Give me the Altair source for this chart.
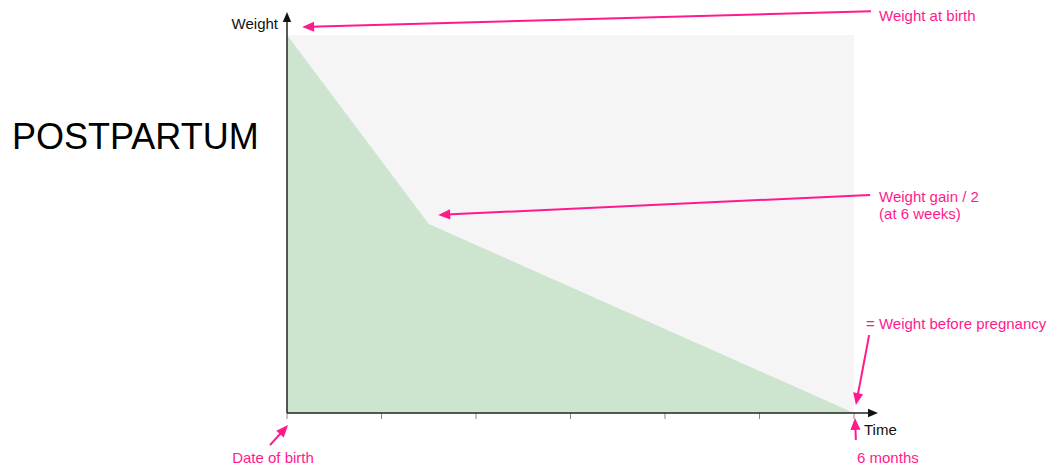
import altair as alt
import pandas as pd
import numpy as np

# ---- data (months since birth, relative weight above pre-pregnancy) ----
curve_month = [0, 1.5, 6]
curve_weight = [1.0, 0.5, 0.0]
tick_months = [0, 1, 2, 3, 4, 5, 6]

# annotations (data units): start point -> arrow tip
ann_x = [6.18, 6.17, 6.16, 6.02, -0.18]
ann_y = [1.063, 0.577, 0.206, -0.071, -0.085]
ann_tx = [0.16, 1.60, 6.02, 6.01, 0.011]
ann_ty = [1.021, 0.524, 0.021, -0.013, -0.032]

lab_text = ["Weight at birth", "Weight gain / 2", "(at 6 weeks)",
            "= Weight before pregnancy", "6 months", "Date of birth"]
lab_x = [6.265, 6.265, 6.265, 6.127, 6.032, -0.148]
lab_y = [1.051, 0.571, 0.526, 0.235, -0.119, -0.119]
lab_align = ["left", "left", "left", "left", "left", "center"]

PINK = "#ff1a8c"
PXX, PXY = 94.5, 378.0  # px per unit
XD = [0, 591 / PXX]
YD = [0, 401 / PXY]
FS = 15

xs = alt.Scale(domain=XD, nice=False, zero=False)
ys = alt.Scale(domain=YD, nice=False, zero=False)
X = lambda f: alt.X(f, type="quantitative", scale=xs, axis=None)
Y = lambda f: alt.Y(f, type="quantitative", scale=ys, axis=None)

bg = pd.DataFrame({"x": [0], "x2": [6], "y": [0], "y2": [1]})
back = alt.Chart(bg).mark_rect(color="#f5f5f5").encode(x=X("x"), x2="x2", y=Y("y"), y2="y2")

curve = pd.DataFrame({"m": curve_month, "w": curve_weight})
area = alt.Chart(curve).mark_area(color="#cde5cf", opacity=1).encode(x=X("m"), y=Y("w"))

# axes
axes_df = pd.DataFrame({"x": [0, 0], "y": [0, 0], "x2": [XD[1] - 0.05, 0], "y2": [0, YD[1] - 0.02]})
axes = alt.Chart(axes_df).mark_rule(color="#222", strokeWidth=1.5).encode(x=X("x"), y=Y("y"), x2="x2", y2="y2")

head_path = "M0,0L-0.42,1L0.42,1Z"
ah_df = pd.DataFrame({"x": [XD[1], 0], "y": [0, YD[1]], "a": [90, 0]})
axheads = alt.Chart(ah_df).mark_point(shape=head_path, filled=True, color="#111", opacity=1, size=400, strokeWidth=0).encode(
    x=X("x"), y=Y("y"), angle=alt.Angle("a:Q", scale=None))

ticks_df = pd.DataFrame({"m": tick_months})
ticks = alt.Chart(ticks_df).mark_tick(orient="vertical", color="#555", size=6, thickness=1, yOffset=3).encode(
    x=X("m"), y=alt.value(401))

# annotation arrows
adf = pd.DataFrame({"x": ann_x, "y": ann_y, "tx": ann_tx, "ty": ann_ty})
dx = (adf.tx - adf.x) * PXX
dy = -(adf.ty - adf.y) * PXY
adf["a"] = (np.degrees(np.arctan2(dx, -dy)) % 360).round(2)
L = np.hypot(dx, dy)
adf["ex"] = adf.tx - (adf.tx - adf.x) * (8 / L)
adf["ey"] = adf.ty - (adf.ty - adf.y) * (8 / L)
lines = alt.Chart(adf).mark_rule(color=PINK, strokeWidth=2).encode(x=X("x"), y=Y("y"), x2="ex", y2="ey")
heads = alt.Chart(adf).mark_point(shape=head_path, filled=True, color=PINK, opacity=1, size=576, strokeWidth=0).encode(
    x=X("tx"), y=Y("ty"), angle=alt.Angle("a:Q", scale=None))

ldf = pd.DataFrame({"t": lab_text, "x": lab_x, "y": lab_y, "al": lab_align})
labs = []
for al in ["left", "center"]:
    labs.append(alt.Chart(ldf[ldf.al == al]).mark_text(align=al, baseline="middle", color=PINK, fontSize=FS,
                                                     font="Liberation Sans").encode(x=X("x"), y=Y("y"), text="t"))

bdf = pd.DataFrame({"t": ["Weight", "Time"], "x": [-0.095, 6.106], "y": [1.029, -0.045], "al": ["right", "left"]})
blabs = []
for al in ["right", "left"]:
    blabs.append(alt.Chart(bdf[bdf.al == al]).mark_text(align=al, baseline="middle", color="#111", fontSize=FS,
                                                      font="Liberation Sans").encode(x=X("x"), y=Y("y"), text="t"))

tdf = pd.DataFrame({"t": ["POSTPARTUM"], "x": [-2.91], "y": [0.7275]})
title = alt.Chart(tdf).mark_text(align="left", baseline="middle", color="#000", fontSize=36,
                                 font="Liberation Sans").encode(x=X("x"), y=Y("y"), text="t")

chart = alt.layer(back, area, ticks, axes, axheads, lines, heads, *labs, *blabs, title).properties(
    width=591, height=401, autosize=alt.AutoSizeParams(type="none"),
    padding={"left": 279, "top": 4, "right": 176, "bottom": 55}
).configure_view(strokeWidth=0)

chart.save("out.html", embed_options={"renderer": "svg", "actions": False})
